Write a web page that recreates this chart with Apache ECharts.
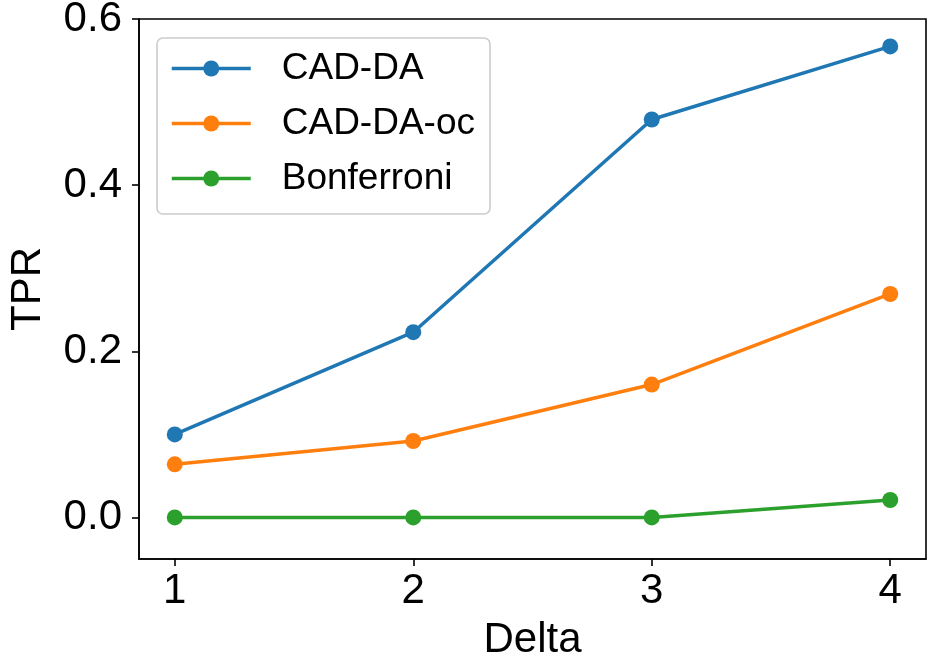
<!DOCTYPE html>
<html>
<head>
<meta charset="utf-8">
<script src="https://cdn.jsdelivr.net/npm/echarts@6/dist/echarts.min.js"></script>
<style>
html,body{margin:0;padding:0;background:#fff;}
#chart{width:935px;height:670px;}
</style>
</head>
<body>
<div id="chart"></div>
<script>
const deltas = [1, 2, 3, 4];
const cadDA = [0.100, 0.223, 0.479, 0.567];
const cadDAoc = [0.064, 0.092, 0.160, 0.269];
const bonferroni = [0.000, 0.000, 0.000, 0.021];
const seriesNames = ['CAD-DA', 'CAD-DA-oc', 'Bonferroni'];
const xTicks = [1, 2, 3, 4];
const yTicks = [0.0, 0.2, 0.4, 0.6];

const colors = ['#1f77b4', '#ff7f0e', '#2ca02c'];
const font = 'Liberation Sans';
const pair = arr => deltas.map((d, i) => [d, arr[i]]);

const chart = echarts.init(document.getElementById('chart'), null, {renderer: 'canvas'});
const mkSeries = (name, arr, color) => ({
  name: name,
  type: 'line',
  data: pair(arr),
  symbol: 'circle',
  symbolSize: 16,
  showSymbol: true,
  color: color,
  itemStyle: {color: color},
  lineStyle: {color: color, width: 3.5},
  emphasis: {disabled: true}
});

chart.setOption({
  animation: false,
  backgroundColor: '#ffffff',
  grid: {
    left: 139, right: 9, top: 19, bottom: 111,
    show: true, borderColor: '#000000', borderWidth: 1.6,
    containLabel: false, outerBoundsMode: 'none'
  },
  legend: {
    left: 157, top: 38,
    orient: 'vertical',
    padding: [12, 15, 17, 13],
    itemWidth: 79, itemHeight: 20, itemGap: 18,
    backgroundColor: 'rgba(255,255,255,0.8)',
    borderColor: '#cccccc', borderWidth: 1.6, borderRadius: 6,
    lineStyle: {width: 3.5},
    textStyle: {fontFamily: font, fontSize: 37, color: '#000', lineHeight: 20, padding: [0, 0, 0, 26]},
    data: seriesNames
  },
  xAxis: {
    type: 'value', min: 0.85, max: 4.15,
    name: 'Delta', nameLocation: 'middle', nameGap: 60,
    nameTextStyle: {fontFamily: font, fontSize: 42, color: '#000'},
    axisLine: {show: true, onZero: false, lineStyle: {color: '#000', width: 1.6}},
    axisTick: {show: true, length: 7, lineStyle: {color: '#000', width: 1.6}, customValues: xTicks},
    axisLabel: {fontFamily: font, fontSize: 42, color: '#000', margin: 11, customValues: xTicks,
      formatter: v => String(v)},
    splitLine: {show: false}
  },
  yAxis: {
    type: 'value', min: -0.05, max: 0.6,
    name: 'TPR', nameLocation: 'middle', nameGap: 90, nameRotate: 90,
    nameTextStyle: {fontFamily: font, fontSize: 42, color: '#000'},
    axisLine: {show: true, onZero: false, lineStyle: {color: '#000', width: 1.6}},
    axisTick: {show: true, length: 7, lineStyle: {color: '#000', width: 1.6}, customValues: yTicks},
    axisLabel: {fontFamily: font, fontSize: 42, color: '#000', margin: 17, customValues: yTicks,
      formatter: v => Number(v).toFixed(1)},
    splitLine: {show: false}
  },
  series: [
    mkSeries(seriesNames[0], cadDA, colors[0]),
    mkSeries(seriesNames[1], cadDAoc, colors[1]),
    mkSeries(seriesNames[2], bonferroni, colors[2])
  ]
});
</script>
</body>
</html>
